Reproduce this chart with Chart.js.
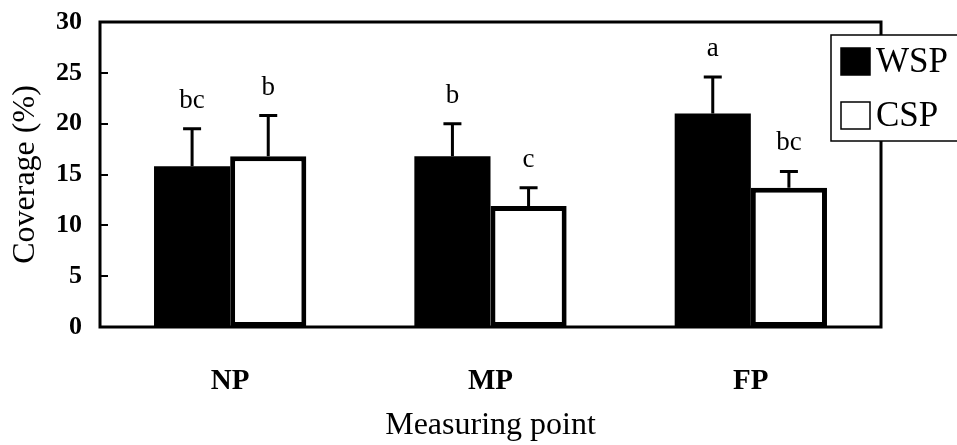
<!DOCTYPE html>
<html>
<head>
<meta charset="utf-8">
<script src="https://cdn.jsdelivr.net/npm/chart.js@4.4.1/dist/chart.umd.min.js"></script>
<style>
  html, body { margin: 0; padding: 0; background: #fff; }
  #wrap { width: 957px; height: 445px; }
</style>
</head>
<body>
<div id="wrap"><canvas id="c"></canvas></div>
<script>
// values
const categories = ['NP', 'MP', 'FP']
const wspMean = [15.8, 16.8, 21.0]
const wspErr = [3.7, 3.2, 3.6]
const cspMean = [16.8, 11.9, 13.7]
const cspErr = [4.0, 1.8, 1.6]
const wspLetters = ['bc', 'b', 'a']
const cspLetters = ['b', 'c', 'bc']
const yTicks = [0, 5, 10, 15, 20, 25, 30]

const SERIF = "'Liberation Serif', 'Times New Roman', serif"
Chart.defaults.font.family = SERIF
Chart.defaults.color = '#000'

// frame, inward ticks, error bars, letters and legend box
const figurePlugin = {
  id: 'figure',
  afterDatasetsDraw(chart) {
    const { ctx, chartArea: a, scales: { y } } = chart
    ctx.save()
    ctx.strokeStyle = '#000'
    ctx.fillStyle = '#000'

    // inward y ticks
    ctx.lineWidth = 2
    yTicks.forEach(v => {
      const py = Math.round(y.getPixelForValue(v))
      ctx.beginPath()
      ctx.moveTo(a.left, py)
      ctx.lineTo(a.left + 8, py)
      ctx.stroke()
    })

    // error bars (upper half only) + significance letters
    const errs = [wspErr, cspErr]
    const letters = [wspLetters, cspLetters]
    chart.data.datasets.forEach((ds, di) => {
      const meta = chart.getDatasetMeta(di)
      meta.data.forEach((bar, i) => {
        const top = y.getPixelForValue(ds.data[i] + errs[di][i])
        ctx.lineWidth = 3
        ctx.beginPath()
        ctx.moveTo(bar.x, bar.y)
        ctx.lineTo(bar.x, top)
        ctx.moveTo(bar.x - 9, top)
        ctx.lineTo(bar.x + 9, top)
        ctx.stroke()
        ctx.font = '27px ' + SERIF
        ctx.textAlign = 'center'
        ctx.textBaseline = 'alphabetic'
        ctx.fillText(letters[di][i], bar.x, top - 21)
      })
    })

    // plot frame
    ctx.lineWidth = 3
    ctx.strokeRect(a.left, a.top, a.right - a.left, a.bottom - a.top)

    // legend box overlapping the right edge
    const lx = 831, ly = 35, lw = 140, lh = 106
    ctx.fillStyle = '#fff'
    ctx.fillRect(lx, ly, lw, lh)
    ctx.lineWidth = 1.5
    ctx.strokeRect(lx, ly, lw, lh)
    chart.data.datasets.forEach((ds, di) => {
      const sy = ly + 13 + di * 54
      ctx.fillStyle = ds.backgroundColor
      ctx.fillRect(841, sy, 29, 27)
      ctx.lineWidth = 1.5
      ctx.strokeRect(841, sy, 29, 27)
      ctx.fillStyle = '#000'
      ctx.font = '35px ' + SERIF
      ctx.textAlign = 'left'
      ctx.textBaseline = 'middle'
      ctx.fillText(ds.label, 876, sy + 15)
    })
    ctx.restore()
  }
}

new Chart(document.getElementById('c'), {
  type: 'bar',
  data: {
    labels: categories,
    datasets: [
      {
        label: 'WSP',
        data: wspMean,
        backgroundColor: '#000',
        borderColor: '#000',
        borderWidth: 0
      },
      {
        label: 'CSP',
        data: cspMean,
        backgroundColor: '#fff',
        borderColor: '#000',
        borderWidth: 5,
        borderSkipped: false
      }
    ]
  },
  options: {
    responsive: true,
    maintainAspectRatio: false,
    animation: false,
    categoryPercentage: 0.585,
    barPercentage: 1.0,
    layout: { padding: { top: 22, right: 76, left: 0, bottom: 0 } },
    plugins: {
      legend: { display: false },
      tooltip: { enabled: false }
    },
    scales: {
      x: {
        grid: { display: false, drawTicks: false },
        border: { display: false },
        ticks: { padding: 37, font: { size: 29, weight: 'bold' } },
        title: {
          display: true,
          text: 'Measuring point',
          font: { size: 32 },
          padding: { top: 0, bottom: 0 }
        },
        afterFit: s => { s.height = 118 }
      },
      y: {
        min: 0,
        max: 30,
        grid: { display: false, drawTicks: false },
        border: { display: false },
        ticks: { stepSize: 5, padding: 18, font: { size: 26, weight: 'bold' } },
        title: {
          display: true,
          text: 'Coverage (%)',
          font: { size: 32 },
          padding: { top: 6, bottom: 0 }
        },
        afterFit: s => {
          s.width = 100
          s.paddingTop = 0
          s.paddingBottom = 0
        }
      }
    }
  },
  plugins: [figurePlugin]
})
</script>
</body>
</html>
